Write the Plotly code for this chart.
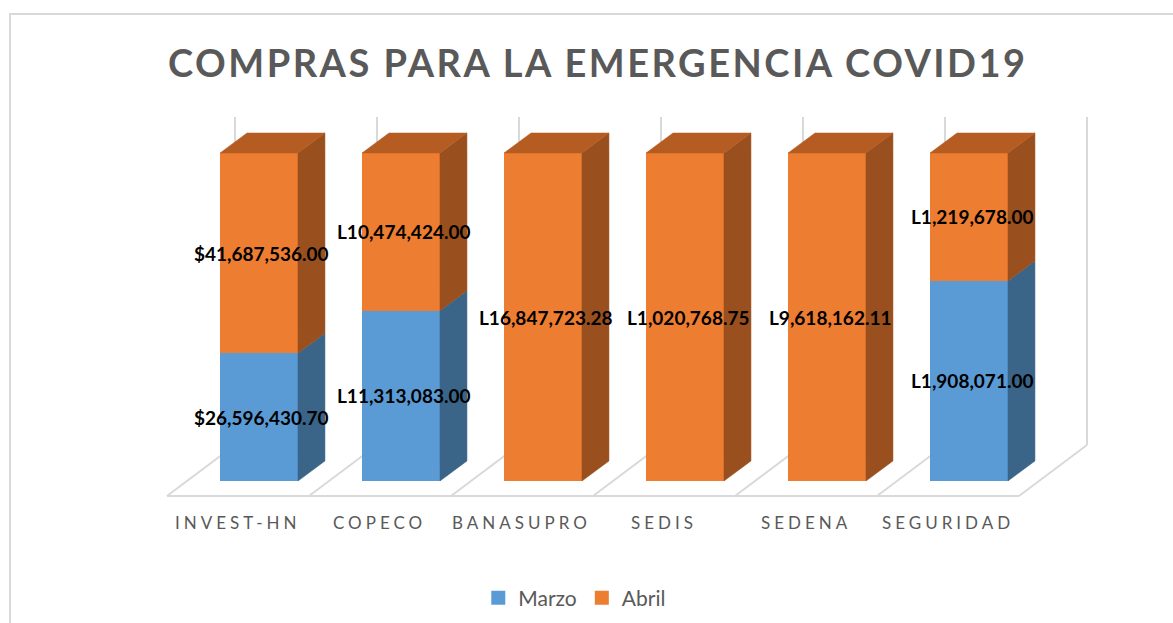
import plotly.graph_objects as go

# ---------------- data ----------------
categories = ["INVEST-HN", "COPECO", "BANASUPRO", "SEDIS", "SEDENA", "SEGURIDAD"]
marzo = [26596430.70, 11313083.00, 0, 0, 0, 1908071.00]
abril = [41687536.00, 10474424.00, 16847723.28, 1020768.75, 9618162.11, 1219678.00]
currency = ["$", "L", "L", "L", "L", "L"]
series_names = ["Marzo", "Abril"]
title_text = "COMPRAS PARA LA EMERGENCIA COVID19"

# ---------------- style ----------------
FRONT = {"Marzo": "#5B9BD5", "Abril": "#ED7D31"}
SIDE = {"Marzo": "#3A6488", "Abril": "#9A4F1E"}
TOP = {"Marzo": "#4A80B0", "Abril": "#B45C22"}
GRID = "#D9D9D9"
TXT = "#595959"
BAR_W = 0.549          # front face width (category units)
DX, DY = 0.19, 6.1     # depth offset (x units, percent units)
FLOOR_FRONT_Y, FLOOR_BACK_Y, WALL_TOP_Y = -4.57, 10.98, 110.98
FLOOR_FRONT_X0, FLOOR_BACK_X0 = -0.648, -0.169
LABEL_X_OFF, LABEL_Y = -0.148, -12.8

n = len(categories)
xs = list(range(n))
tot = [m + a for m, a in zip(marzo, abril)]
pm = [m / t * 100 for m, t in zip(marzo, tot)]
pa = [a / t * 100 for a, t in zip(abril, tot)]

fig = go.Figure()

# front faces (real bars)
fig.add_trace(go.Bar(x=xs, y=pm, width=BAR_W, name="Marzo", showlegend=False,
                     marker=dict(color=FRONT["Marzo"], line_width=0), hoverinfo="skip"))
fig.add_trace(go.Bar(x=xs, y=pa, width=BAR_W, name="Abril", showlegend=False,
                     marker=dict(color=FRONT["Abril"], line_width=0), hoverinfo="skip"))

# side and top faces
for i in xs:
    segs = []
    if pm[i] > 0:
        segs.append(("Marzo", 0, pm[i]))
    segs.append(("Abril", pm[i], pm[i] + pa[i]))
    xr = i + BAR_W / 2
    xl = i - BAR_W / 2
    for name, y0, y1 in segs:
        fig.add_trace(go.Scatter(
            x=[xr, xr + DX, xr + DX, xr, xr], y=[y0, y0 + DY, y1 + DY, y1, y0],
            fill="toself", fillcolor=SIDE[name], mode="lines", line=dict(width=0.5, color=SIDE[name]),
            showlegend=False, hoverinfo="skip"))
    top_name, _, ytop = segs[-1]
    fig.add_trace(go.Scatter(
        x=[xl, xl + DX, xr + DX, xr, xl], y=[ytop, ytop + DY, ytop + DY, ytop, ytop],
        fill="toself", fillcolor=TOP[top_name], mode="lines", line=dict(width=0.5, color=TOP[top_name]),
        showlegend=False, hoverinfo="skip"))

# legend entries (square swatches)
for name in series_names:
    fig.add_trace(go.Scatter(x=[None], y=[None], mode="markers", name=name,
                             marker=dict(symbol="square", size=14, color=FRONT[name]),
                             showlegend=True, hoverinfo="skip"))

# floor and back wall lines (below traces)
shapes = []
for k in range(n + 1):
    fx = FLOOR_FRONT_X0 + k
    bx = FLOOR_BACK_X0 + k
    shapes.append(dict(type="line", xref="x", yref="y", x0=fx, y0=FLOOR_FRONT_Y, x1=bx, y1=FLOOR_BACK_Y,
                       line=dict(color=GRID, width=2), layer="below"))
    shapes.append(dict(type="line", xref="x", yref="y", x0=bx, y0=FLOOR_BACK_Y, x1=bx, y1=WALL_TOP_Y,
                       line=dict(color=GRID, width=2), layer="below"))
shapes.append(dict(type="line", xref="x", yref="y", x0=FLOOR_FRONT_X0, y0=FLOOR_FRONT_Y,
                   x1=FLOOR_FRONT_X0 + n, y1=FLOOR_FRONT_Y, line=dict(color=GRID, width=2), layer="below"))
# chart border
shapes.append(dict(type="rect", xref="paper", yref="paper", x0=10 / 1173, y0=-0.05, x1=1.05, y1=1 - 14 / 623,
                   line=dict(color=GRID, width=2), layer="below"))

annotations = []
def fmt(p, v):
    return f"{p}{v:,.2f}"

LBL_FONT = dict(family="Lato", size=19, color="black")
for i in xs:
    if marzo[i] > 0:
        annotations.append(dict(x=i + 0.02, y=pm[i] / 2, xref="x", yref="y", yanchor="middle",
                                text=f"<b>{fmt(currency[i], marzo[i])}</b>",
                                showarrow=False, font=LBL_FONT))
    annotations.append(dict(x=i + 0.02, y=pm[i] + pa[i] / 2, xref="x", yref="y", yanchor="middle",
                            text=f"<b>{fmt(currency[i], abril[i])}</b>",
                            showarrow=False, font=LBL_FONT))
    annotations.append(dict(x=i + LABEL_X_OFF, y=LABEL_Y, xref="x", yref="y", yanchor="middle",
                            text=f'<span style="letter-spacing:4px">{categories[i]}</span>',
                            showarrow=False, font=dict(family="Lato", size=17, color=TXT)))

annotations.append(dict(x=598 / 1173, y=1 - 62 / 623, xref="paper", yref="paper",
                        xanchor="center", yanchor="middle",
                        text=f'<span style="letter-spacing:2.5px"><b>{title_text}</b></span>',
                        showarrow=False, font=dict(family="Lato", size=38, color=TXT)))

fig.update_layout(
    width=1173, height=623,
    margin=dict(l=0, r=0, t=0, b=0),
    paper_bgcolor="white", plot_bgcolor="white",
    barmode="stack", bargap=0,
    xaxis=dict(range=[-259 / 142, (1173 - 259) / 142], visible=False, fixedrange=True),
    yaxis=dict(range=[(481 - 623) / 3.28, 481 / 3.28], visible=False, fixedrange=True),
    shapes=shapes, annotations=annotations,
    showlegend=True,
    legend=dict(orientation="h", x=0.49, xanchor="center", y=1 - 598 / 623, yanchor="middle",
                font=dict(family="Lato", size=21, color=TXT), traceorder="normal",
                itemwidth=30),
)

fig.write_html("out.html")
